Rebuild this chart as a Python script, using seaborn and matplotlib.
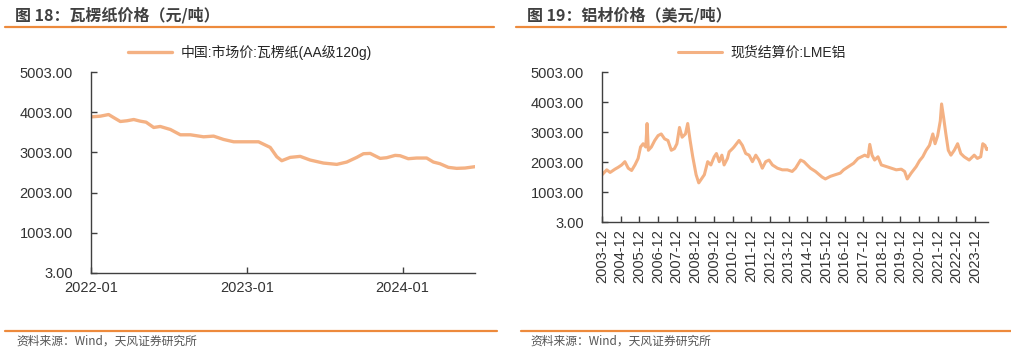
import numpy as np
import pandas as pd
import matplotlib
matplotlib.use("Agg")
import matplotlib.pyplot as plt
from matplotlib.lines import Line2D
import seaborn as sns

# ---------------- data ----------------
# Chart 18: corrugated paper price (yuan/ton), decimal-year time stamps
paper_t = [2022.000, 2022.060, 2022.113, 2022.145, 2022.188, 2022.231, 2022.274, 2022.316,
           2022.353, 2022.402, 2022.444, 2022.509, 2022.573, 2022.637, 2022.722, 2022.786,
           2022.850, 2022.915, 2023.000, 2023.075, 2023.150, 2023.192, 2023.224, 2023.278,
           2023.342, 2023.406, 2023.491, 2023.577, 2023.641, 2023.705, 2023.748, 2023.791,
           2023.855, 2023.897, 2023.951, 2023.983, 2024.036, 2024.090, 2024.154, 2024.197,
           2024.239, 2024.293, 2024.346, 2024.400, 2024.464]
paper_v = [3887, 3904, 3945, 3870, 3772, 3790, 3821, 3780,
           3755, 3623, 3648, 3573, 3441, 3441, 3391, 3408,
           3325, 3267, 3267, 3267, 3127, 2896, 2796, 2879,
           2904, 2813, 2738, 2705, 2763, 2879, 2970, 2978,
           2854, 2871, 2929, 2920, 2846, 2863, 2863, 2763,
           2722, 2631, 2606, 2614, 2648]
paper_label = "中国:市场价:瓦楞纸(AA级120g)"
paper_xticks = ["2022-01", "2023-01", "2024-01"]

# Chart 19: LME aluminium settlement price (USD/ton)
alu_t = [2003.92, 2004.17, 2004.35, 2004.61, 2004.79, 2004.97, 2005.14, 2005.32, 2005.50, 2005.68,
         2005.85, 2005.98, 2006.12, 2006.26, 2006.33, 2006.40, 2006.56, 2006.74, 2006.92, 2007.09,
         2007.27, 2007.45, 2007.63, 2007.80, 2007.93, 2008.07, 2008.21, 2008.39, 2008.51, 2008.64,
         2008.78, 2008.96, 2009.10, 2009.22, 2009.40, 2009.58, 2009.75, 2009.93, 2010.05, 2010.20,
         2010.34, 2010.46, 2010.64, 2010.73, 2010.91, 2010.99, 2011.26, 2011.44, 2011.62, 2011.80,
         2011.98, 2012.16, 2012.33, 2012.51, 2012.69, 2012.87, 2013.05, 2013.32, 2013.58, 2013.85,
         2014.11, 2014.29, 2014.56, 2014.74, 2014.91, 2015.09, 2015.36, 2015.71, 2015.89, 2016.16,
         2016.42, 2016.69, 2016.87, 2017.13, 2017.40, 2017.64, 2018.00, 2018.18, 2018.27, 2018.39,
         2018.53, 2018.71, 2018.89, 2019.16, 2019.43, 2019.69, 2019.96, 2020.14, 2020.28, 2020.49,
         2020.76, 2020.94, 2021.11, 2021.29, 2021.47, 2021.65, 2021.77, 2021.91, 2022.05, 2022.12,
         2022.23, 2022.35, 2022.48, 2022.62, 2022.80, 2022.98, 2023.15, 2023.33, 2023.60, 2023.87,
         2024.04, 2024.22, 2024.33, 2024.45, 2024.54, 2024.61]
alu_v = [1579, 1742, 1655, 1764, 1829, 1905, 2014, 1796, 1720, 1905,
         2122, 2503, 2612, 2503, 3286, 2394, 2503, 2720, 2883, 2938,
         2775, 2720, 2394, 2449, 2612, 3155, 2829, 2938, 3286, 2720,
         2177, 1579, 1307, 1416, 1579, 2014, 1905, 2177, 2286, 2014,
         2231, 1905, 2122, 2340, 2449, 2503, 2720, 2557, 2286, 2231,
         2014, 2231, 2068, 1796, 2014, 2068, 1905, 1796, 1742, 1742,
         1688, 1796, 2068, 2014, 1905, 1796, 1688, 1503, 1438, 1525,
         1579, 1633, 1742, 1851, 1960, 2122, 2231, 2177, 2590, 2231,
         2068, 2177, 1905, 1851, 1796, 1742, 1764, 1688, 1438, 1633,
         1851, 2046, 2177, 2394, 2557, 2938, 2612, 2883, 3372, 3938,
         3481, 2938, 2394, 2231, 2394, 2612, 2286, 2177, 2068, 2231,
         2122, 2177, 2612, 2557, 2416, 2449]
alu_label = "现货结算价:LME铝"
alu_xticks = [f"{y}-12" for y in range(2003, 2024)]

yticks = [3, 1003, 2003, 3003, 4003, 5003]

titles = ["图 18：瓦楞纸价格（元/吨）", "图 19：铝材价格（美元/吨）"]
source = "资料来源：Wind，天风证券研究所"


def dec2ts(t):
    y = int(t)
    return pd.Timestamp(year=y, month=1, day=1) + pd.Timedelta(days=(t - y) * 365.25)


paper_df = pd.DataFrame({"date": [dec2ts(t) for t in paper_t], "value": paper_v})
alu_df = pd.DataFrame({"date": [dec2ts(t) for t in alu_t], "value": alu_v})

# ---------------- style ----------------
sns.set_theme(style="white")
plt.rcParams["font.family"] = ["Liberation Sans", "Noto Sans CJK SC", "DejaVu Sans"]
plt.rcParams["axes.unicode_minus"] = False

LINE_C = "#F4B183"
ORANGE = "#ED8A3C"
TEXT_C = "#333333"
TITLE_C = "#404040"

fig = plt.figure(figsize=(10.11, 3.53), dpi=100)
W, H = 1011, 353

def fx(px):
    return px / W

def fy(py):
    return 1 - py / H

# decorations
for x0, x1 in [(5, 494), (516, 1006)]:
    fig.add_artist(Line2D([fx(x0), fx(x1)], [fy(27), fy(27)], color=ORANGE, lw=1.6))
for x0, x1 in [(5, 497), (521, 1011)]:
    fig.add_artist(Line2D([fx(x0), fx(x1)], [fy(331), fy(331)], color=ORANGE, lw=1.6))
fig.text(fx(15), fy(15), titles[0], fontsize=11.5, fontweight="bold", color=TITLE_C,
         va="center", ha="left", family=["Noto Sans CJK SC", "DejaVu Sans"])
fig.text(fx(527), fy(15), titles[1], fontsize=11.5, fontweight="bold", color=TITLE_C,
         va="center", ha="left", family=["Noto Sans CJK SC", "DejaVu Sans"])
fig.text(fx(16), fy(341), source, fontsize=8.5, color="#555555", va="center", ha="left",
         family=["Noto Sans CJK SC", "DejaVu Sans"])
fig.text(fx(530), fy(341), source, fontsize=8.5, color="#555555", va="center", ha="left",
         family=["Noto Sans CJK SC", "DejaVu Sans"])

# axes
ax1 = fig.add_axes([fx(91), fy(273), fx(475 - 91), (273 - 72) / H])
ax2 = fig.add_axes([fx(602), fy(222), fx(988 - 602), (222 - 72) / H])

sns.lineplot(data=paper_df, x="date", y="value", ax=ax1, color=LINE_C, lw=2.4, label=paper_label)
sns.lineplot(data=alu_df, x="date", y="value", ax=ax2, color=LINE_C, lw=2.2, label=alu_label)

for ax in (ax1, ax2):
    ax.set_ylim(3, 5003)
    ax.set_yticks(yticks)
    ax.set_yticklabels([f"{v:.2f}" for v in yticks])
    ax.set_xlabel("")
    ax.set_ylabel("")
    for s in ["top", "right"]:
        ax.spines[s].set_visible(False)
    for s in ["left", "bottom"]:
        ax.spines[s].set_color("#404040")
        ax.spines[s].set_linewidth(1.0)
    ax.tick_params(axis="both", direction="in", length=4, width=1, color="#404040",
                   labelsize=10.5, labelcolor=TEXT_C, left=True, bottom=True)
    ax.tick_params(axis="y", pad=13)
    ax.tick_params(axis="x", pad=5)
    ax.grid(False)

ax1.set_xlim(dec2ts(2022.0), dec2ts(2024.464))
ax1.set_xticks([pd.Timestamp("2022-01-01"), pd.Timestamp("2023-01-01"), pd.Timestamp("2024-01-01")])
ax1.set_xticklabels(paper_xticks)
ax1.tick_params(axis="x", pad=6)

ax2.set_xlim(pd.Timestamp("2003-12-01"), dec2ts(2024.61))
ax2.set_xticks([pd.Timestamp(f"{y}-12-01") for y in range(2003, 2024)])
ax2.set_xticklabels(alu_xticks, rotation=90)

ax1.legend(loc="center", bbox_to_anchor=(fx(250), fy(52)), bbox_transform=fig.transFigure,
           frameon=False, fontsize=10, handlelength=3.2, handletextpad=0.6)
ax2.legend(loc="center", bbox_to_anchor=(fx(762), fy(53)), bbox_transform=fig.transFigure,
           frameon=False, fontsize=10, handlelength=3.2, handletextpad=0.6)

fig.savefig("out.png", dpi=100)
